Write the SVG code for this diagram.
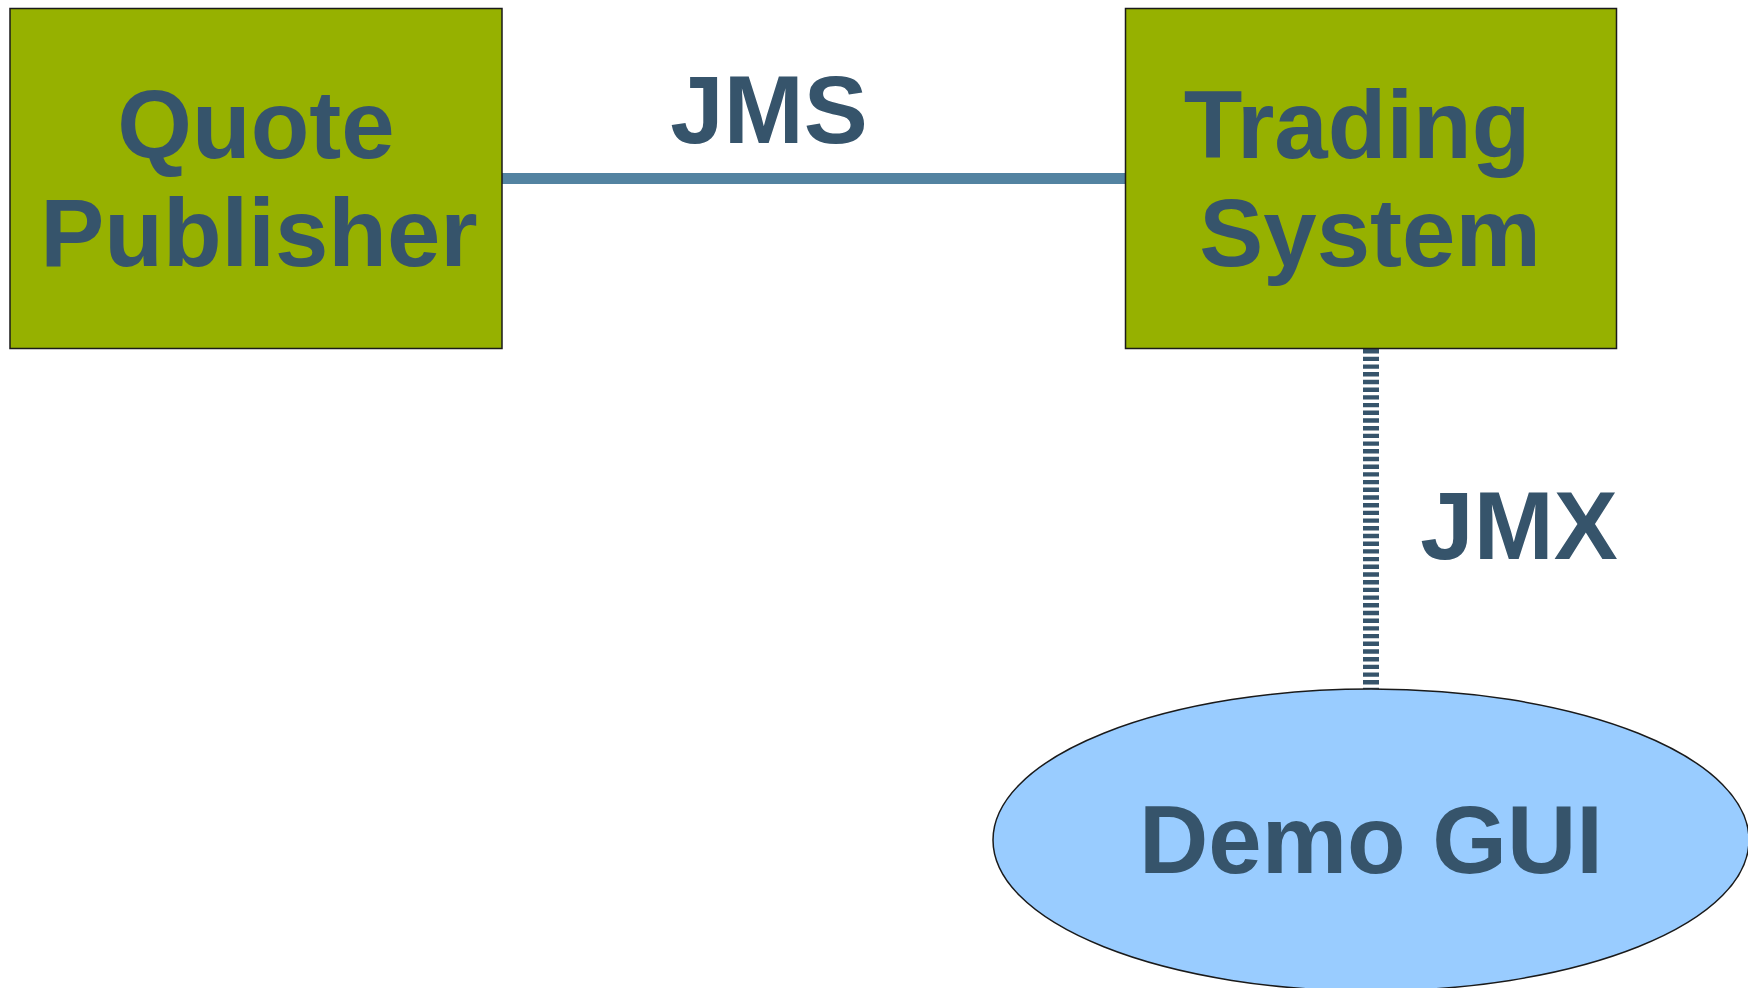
<svg xmlns="http://www.w3.org/2000/svg" width="1748" height="988" viewBox="0 0 1748 988">
  <style>
    .box { fill: #96b100; stroke: #1a1a1a; stroke-width: 1.5; }
    .oval { fill: #99ccff; stroke: #1a1a1a; stroke-width: 1.5; }
    .label { font-family: "Liberation Sans", Arial, sans-serif; font-weight: bold; font-size: 96px; fill: #36546b; text-anchor: middle; }
    .jms { stroke: #5383a1; stroke-width: 11; fill: none; }
    .jmx { stroke: #36546b; stroke-width: 16; fill: none; stroke-dasharray: 4.4 3.3; }
  </style>
  <rect width="1748" height="988" fill="#ffffff"/>

  <!-- connectors -->
  <g id="connectors">
    <line class="jms" x1="501" y1="178.5" x2="1126" y2="178.5"/>
    <text class="label" x="769" y="143">JMS</text>
    <line class="jmx" x1="1371" y1="349" x2="1371" y2="689"/>
    <text class="label" x="1519" y="559">JMX</text>
  </g>

  <!-- Quote Publisher -->
  <g id="quote-publisher">
    <rect class="box" x="10" y="8.5" width="492" height="340"/>
    <text class="label" x="256" y="158">Quote</text>
    <text class="label" x="259" y="266">Publisher</text>
  </g>

  <!-- Trading System -->
  <g id="trading-system">
    <rect class="box" x="1125.5" y="8.5" width="491" height="340"/>
    <text class="label" x="1357" y="158">Trading</text>
    <text class="label" x="1370" y="266">System</text>
  </g>

  <!-- Demo GUI -->
  <g id="demo-gui">
    <ellipse class="oval" cx="1371" cy="840" rx="378" ry="151"/>
    <text class="label" x="1371" y="873">Demo GUI</text>
  </g>
</svg>
